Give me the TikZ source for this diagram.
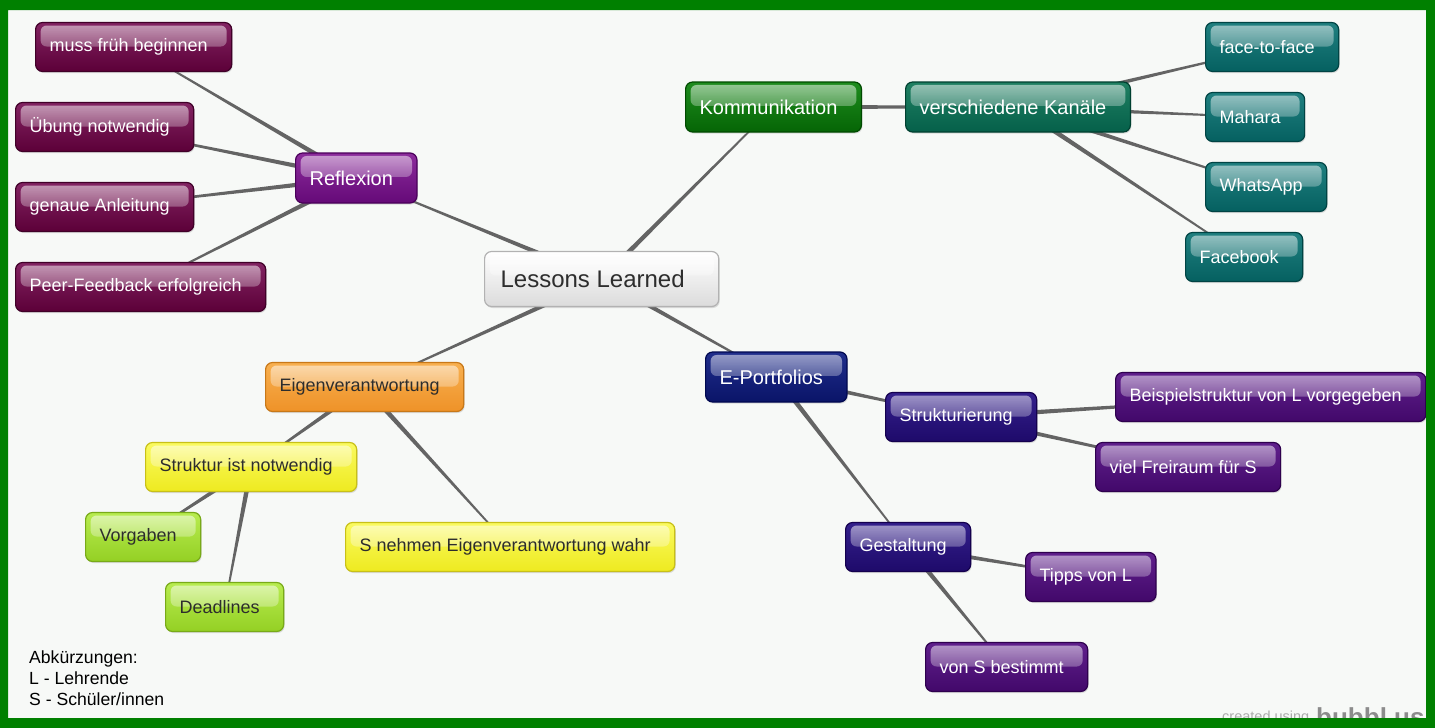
\documentclass[tikz,border=0pt]{standalone}
\usepackage{fontspec}
\setmainfont{Liberation Sans}
\usetikzlibrary{calc,backgrounds,shadows,fadings}

\definecolor{paper}{RGB}{247,249,247}
\definecolor{frame}{RGB}{0,128,0}
\definecolor{linkgray}{RGB}{100,100,100}
\definecolor{darktext}{RGB}{45,45,45}
\definecolor{reflchildtop}{RGB}{130,36,98}
\definecolor{reflchildbot}{RGB}{92,0,56}
\definecolor{reflchildrim}{RGB}{64,0,40}
\definecolor{refltop}{RGB}{140,44,156}
\definecolor{reflbot}{RGB}{101,10,120}
\definecolor{reflrim}{RGB}{74,0,90}
\definecolor{kommtop}{RGB}{30,140,30}
\definecolor{kommbot}{RGB}{5,101,5}
\definecolor{kommrim}{RGB}{0,74,0}
\definecolor{kanaltop}{RGB}{32,128,98}
\definecolor{kanalbot}{RGB}{5,96,74}
\definecolor{kanalrim}{RGB}{0,64,48}
\definecolor{channeltop}{RGB}{32,128,128}
\definecolor{channelbot}{RGB}{5,96,96}
\definecolor{channelrim}{RGB}{0,68,68}
\definecolor{eporttop}{RGB}{32,46,140}
\definecolor{eportbot}{RGB}{10,20,104}
\definecolor{eportrim}{RGB}{0,8,80}
\definecolor{subtop}{RGB}{52,32,140}
\definecolor{subbot}{RGB}{30,10,106}
\definecolor{subrim}{RGB}{20,0,78}
\definecolor{leaftop}{RGB}{96,32,140}
\definecolor{leafbot}{RGB}{66,8,106}
\definecolor{leafrim}{RGB}{46,0,78}
\definecolor{selftop}{RGB}{248,176,80}
\definecolor{selfbot}{RGB}{238,146,40}
\definecolor{selfrim}{RGB}{200,120,24}
\definecolor{structtop}{RGB}{250,250,96}
\definecolor{structbot}{RGB}{238,234,32}
\definecolor{structrim}{RGB}{200,192,24}
\definecolor{limetop}{RGB}{184,236,80}
\definecolor{limebot}{RGB}{148,208,36}
\definecolor{limerim}{RGB}{120,170,24}

\newcommand{\link}[2]{\fill[linkgray] ($(#1)!2.6pt!90:(#2)$) -- ($(#1)!2.6pt!-90:(#2)$) -- ($(#2)!0.6pt!90:(#1)$) -- ($(#2)!0.6pt!-90:(#1)$) -- cycle;}

\begin{document}
\begin{tikzpicture}[
    x=1pt, y=-1pt,
    bub/.style={anchor=west, rounded corners=7pt, minimum height=49pt, inner xsep=14pt, inner ysep=0pt,
        line width=1.2pt, font=\fontsize{18}{20}\selectfont, text=white,
        execute at end node={\hspace*{10pt}},
        drop shadow={shadow xshift=1pt, shadow yshift=-1.5pt, opacity=0.25},
        path picture={\fill[white, opacity=0.55, path fading=south, rounded corners=6pt]
            ([xshift=5pt,yshift=-3pt]path picture bounding box.north west) rectangle
            ([xshift=-5pt,yshift=-24pt]path picture bounding box.north east);}},
    gloss/.style={bub, top color=#1top, bottom color=#1bot, draw=#1rim},
    big/.style={font=\fontsize{20}{22}\selectfont, minimum height=50pt},
    rootbox/.style={bub, top color=white, bottom color=black!14, draw=black!30, text=darktext, minimum height=55pt,
        font=\fontsize{24}{26}\selectfont, inner xsep=16pt, execute at end node={\hspace*{8pt}}},
    reflchild/.style={gloss=reflchild},
    reflbox/.style={gloss=refl, big},
    kommbox/.style={gloss=komm, big},
    kanalbox/.style={gloss=kanal, big},
    channel/.style={gloss=channel},
    eportbox/.style={gloss=eport, big},
    subbox/.style={gloss=sub},
    leafbox/.style={gloss=leaf},
    selfbox/.style={gloss=self, text=darktext},
    structbox/.style={gloss=struct, text=darktext},
    limebox/.style={gloss=lime, text=darktext}
]
\useasboundingbox (0,0) rectangle (1435,728);

\node[rootbox] (lessons) at (484,279) {Lessons Learned};

\node[reflbox] (reflexion) at (295,178) {Reflexion};
\node[reflchild] (muss) at (35,47) {muss früh beginnen};
\node[reflchild] (uebung) at (15,127) {Übung notwendig};
\node[reflchild] (anleitung) at (15,207) {genaue Anleitung};
\node[reflchild] (peer) at (15,287) {Peer-Feedback erfolgreich};

\node[kommbox] (komm) at (685,107) {Kommunikation};
\node[kanalbox] (kanaele) at (905,107) {verschiedene Kanäle};
\node[channel] (facetoface) at (1205,47) {face-to-face};
\node[channel] (mahara) at (1205,117) {Mahara};
\node[channel] (whatsapp) at (1205,187) {WhatsApp};
\node[channel] (facebook) at (1185,257) {Facebook};

\node[eportbox] (eport) at (705,377) {E-Portfolios};
\node[subbox] (strukturierung) at (885,417) {Strukturierung};
\node[leafbox] (beispiel) at (1115,397) {Beispielstruktur von L vorgegeben};
\node[leafbox] (freiraum) at (1095,467) {viel Freiraum für S};
\node[subbox] (gestaltung) at (845,547) {Gestaltung};
\node[leafbox] (tipps) at (1025,577) {Tipps von L};
\node[leafbox] (vons) at (925,667) {von S bestimmt};

\node[selfbox] (eigen) at (265,387) {Eigenverantwortung};
\node[structbox] (notwendig) at (145,467) {Struktur ist notwendig};
\node[limebox] (vorgaben) at (85,537) {Vorgaben};
\node[limebox] (deadlines) at (165,607) {Deadlines};
\node[structbox] (wahr) at (345,547) {S nehmen Eigenverantwortung wahr};

\node[anchor=north west, align=left, inner sep=0pt, font=\fontsize{17.6}{21}\selectfont] (abk) at (29,651)
    {Abkürzungen:\\L - Lehrende\\S - Schüler/innen};

\begin{scope}[on background layer]
\fill[paper] (0,0) rectangle (1435,728);
\link{lessons}{reflexion}
\link{lessons}{komm}
\link{lessons}{eport}
\link{lessons}{eigen}
\link{reflexion}{muss}
\link{reflexion}{uebung}
\link{reflexion}{anleitung}
\link{reflexion}{peer}
\link{komm}{kanaele}
\link{kanaele}{facetoface}
\link{kanaele}{mahara}
\link{kanaele}{whatsapp}
\link{kanaele}{facebook}
\link{eport}{strukturierung}
\link{eport}{gestaltung}
\link{strukturierung}{beispiel}
\link{strukturierung}{freiraum}
\link{gestaltung}{tipps}
\link{gestaltung}{vons}
\link{eigen}{notwendig}
\link{eigen}{wahr}
\link{notwendig}{vorgaben}
\link{notwendig}{deadlines}
\end{scope}

\node[anchor=base west, inner sep=0pt, text=black!33, font=\fontsize{14.5}{14.5}\selectfont] (created) at (1222,721) {created using};
\node[anchor=base west, inner sep=0pt, text=black!45, font=\bfseries\fontsize{26}{26}\selectfont] (bubbl) at (1316,726) {bubbl.us};
\fill[frame, even odd rule] (0,0) rectangle (1435,728) (8,10) rectangle (1426,718);
\end{tikzpicture}
\end{document}
